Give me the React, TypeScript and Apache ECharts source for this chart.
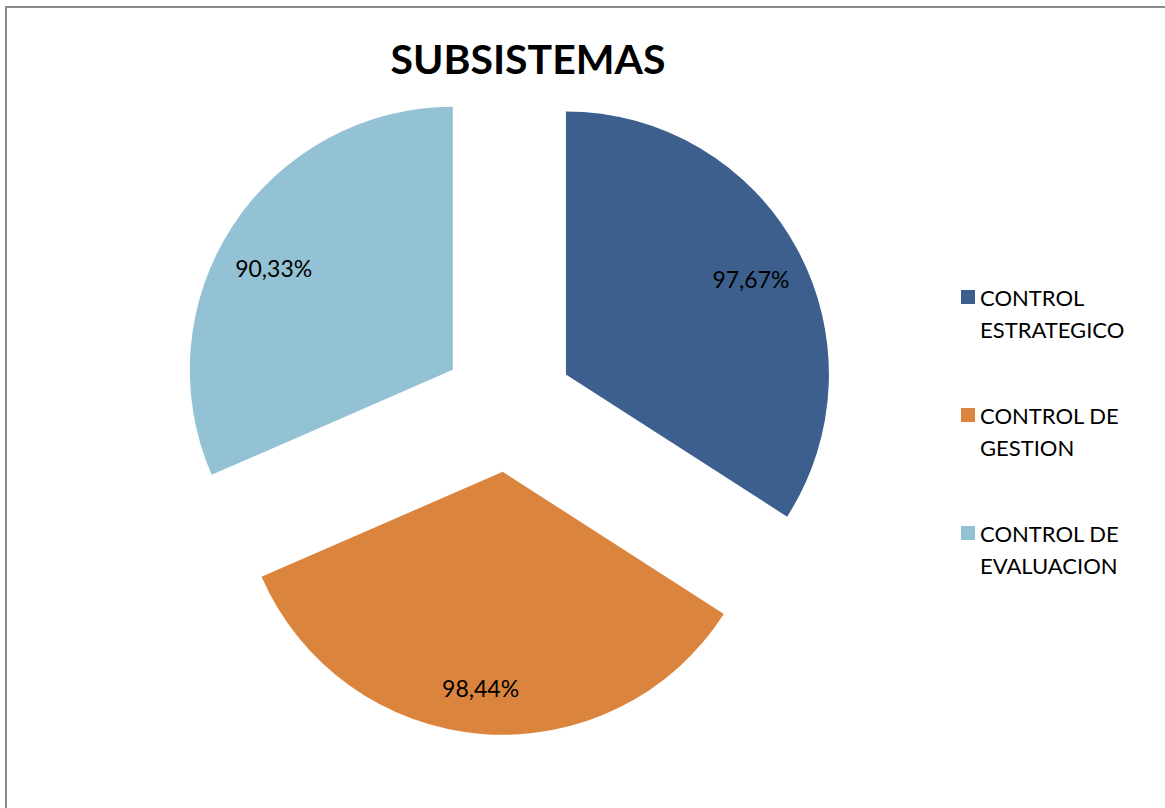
import React, { useEffect, useRef } from "react";
import * as echarts from "echarts";

const categories = ["CONTROL\nESTRATEGICO", "CONTROL DE\nGESTION", "CONTROL DE\nEVALUACION"];
const values = [97.67, 98.44, 90.33];
const colors = ["#3C5F8D", "#DB843D", "#93C2D4"];
const labelOffsets = [[-2, 7], [-5, 4], [-1, 15]];
const titleText = "SUBSISTEMAS";

export default function App() {
  const ref = useRef<HTMLDivElement>(null);
  useEffect(() => {
    const chart = echarts.init(ref.current!, null, { renderer: "svg" });
    const data = categories.map((name, i) => ({
      name,
      value: values[i],
      selected: true,
      itemStyle: { color: colors[i] },
    }));
    const labelData = categories.map((name, i) => ({
      name,
      value: values[i],
      selected: true,
    }));
    chart.setOption({
      animation: false,
      backgroundColor: "#ffffff",
      title: {
        text: titleText,
        left: 523,
        top: 33,
        textAlign: "center",
        textStyle: { fontFamily: "Lato", fontWeight: "bold", fontSize: 41, color: "#000" },
      },
      graphic: [
        {
          type: "rect",
          shape: { x: 6, y: 7, width: 1300, height: 1000 },
          style: { fill: "none", stroke: "#8A8A8A", lineWidth: 2 },
          silent: true,
        },
      ],
      legend: {
        orient: "vertical",
        left: 956,
        top: 244,
        icon: "rect",
        itemWidth: 14,
        itemHeight: 14,
        itemGap: 22,
        selectedMode: false,
        data: categories,
        formatter: (name: string) => " \n" + name,
        textStyle: {
          fontFamily: "Lato",
          fontSize: 22,
          color: "#000",
          lineHeight: 32,
        },
      },
      series: [
        {
          type: "pie",
          center: [508, 406],
          radius: [0, 263],
          startAngle: 90,
          clockwise: true,
          selectedMode: "multiple",
          selectedOffset: 66,
          silent: true,
          label: { show: false },
          labelLine: { show: false },
          emphasis: { disabled: true },
          data,
        },
        {
          type: "pie",
          center: [508, 406],
          radius: [157, 263],
          startAngle: 90,
          clockwise: true,
          selectedMode: "multiple",
          selectedOffset: 66,
          silent: true,
          itemStyle: { color: "rgba(0,0,0,0)" },
          label: {
            show: true,
            position: "inside",
            rotate: 0,
            fontFamily: "Lato",
            fontSize: 23,
            color: "#000",
            formatter: (p: any) => p.value.toFixed(2).replace(".", ",") + "%",
          },
          labelLayout: (p: any) => ({
            dx: labelOffsets[p.dataIndex][0],
            dy: labelOffsets[p.dataIndex][1],
          }),
          labelLine: { show: false },
          emphasis: { disabled: true },
          legendHoverLink: false,
          data: labelData,
        },
      ],
    });
    return () => chart.dispose();
  }, []);
  return (
    <div
      ref={ref}
      style={{ position: "absolute", left: 0, top: 0, width: 1165, height: 808 }}
    />
  );
}
